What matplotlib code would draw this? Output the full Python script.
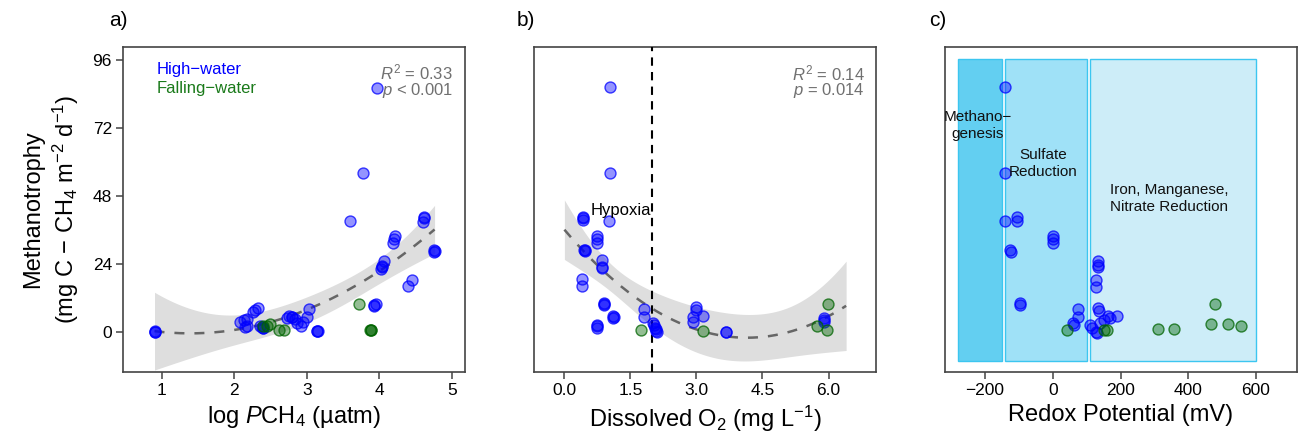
import numpy as np
import matplotlib
matplotlib.use("Agg")
import matplotlib.pyplot as plt
from matplotlib.patches import Rectangle

# ---------------- data ----------------
# Panel a: log PCH4 vs methanotrophy (dark marks = overlapping samples)
a_high_x = [0.90, 0.91, 0.90, 3.96, 3.77, 3.60, 4.61, 4.60, 4.61, 4.21, 4.20, 4.19,
            4.75, 4.75, 4.76, 4.06, 4.03, 4.02, 4.03, 4.45, 4.40, 3.95, 3.92, 3.93,
            3.14, 3.15, 3.14, 3.03, 3.00, 2.95, 2.92, 2.86, 2.84, 2.79, 2.76, 2.72,
            2.80, 2.38, 2.40, 2.36, 2.39, 2.32, 2.29, 2.26, 2.17, 2.13, 2.08, 2.17,
            2.15]
a_high_y = [0.1, 0.0, 0.2, 86.2, 56.2, 39.2, 40.1, 39.0, 40.5, 34.0, 32.7, 31.5,
            28.9, 28.2, 28.5, 25.2, 23.3, 22.4, 22.8, 18.4, 16.3, 9.9, 9.2, 9.6,
            0.35, 0.3, 0.2, 8.1, 5.4, 3.6, 2.2, 3.1, 4.5, 5.4, 5.6, 4.8,
            5.2, 1.8, 1.3, 2.0, 1.5, 8.6, 7.8, 7.1, 4.5, 4.2, 3.7, 2.2,
            1.9]
a_fall_x = [3.72, 3.87, 3.89, 3.88, 2.61, 2.69, 2.49, 2.45, 2.40]
a_fall_y = [9.9, 0.7, 0.7, 0.8, 0.6, 0.6, 2.7, 2.2, 2.0]

# Panel b: dissolved O2 vs methanotrophy
b_high_x = [1.04, 1.04, 1.02, 0.42, 0.42, 0.42, 0.73, 0.75, 0.75, 0.45, 0.47,
            0.46, 0.86, 0.86, 0.86, 0.39, 0.39, 0.89, 0.89, 0.90, 1.11, 1.11,
            1.12, 0.73, 0.73, 0.74, 1.80, 1.80, 2.02, 2.06, 2.10, 2.04, 2.07,
            2.08, 2.98, 2.98, 2.92, 2.92, 3.16, 3.67, 3.67, 5.89, 5.89, 5.90]
b_high_y = [86.4, 56.1, 39.2, 40.7, 39.5, 40.2, 33.9, 32.7, 31.5, 28.9, 28.6,
            28.8, 25.4, 23.1, 22.5, 18.6, 16.2, 10.1, 9.5, 9.8, 5.6, 5.1,
            5.3, 2.5, 1.6, 2.0, 8.1, 5.4, 3.1, 1.6, 0.1, 2.5, 1.0,
            0.5, 8.7, 7.8, 5.2, 3.6, 5.6, 0.0, 0.0, 4.8, 3.6, 4.2]
b_fall_x = [1.75, 3.14, 5.99, 5.73, 5.96]
b_fall_y = [0.8, 0.5, 9.9, 2.2, 0.7]

# Panel c: redox potential vs methanotrophy
c_high_x = [-140, -140, -140, -106, -106, 2, 2, 2, -126, -124, 135, 133, 134,
            128, 128, -98, -98, 76, 76, 61, 64, 135, 138, 164, 169, 189, 151,
            140, 110, 115, 128, 130]
c_high_y = [86.4, 56.1, 39.2, 40.5, 39.3, 33.9, 32.7, 31.5, 28.9, 28.4, 25.2,
            22.8, 23.5, 18.4, 16.0, 10.1, 9.5, 8.0, 5.4, 3.1, 2.5, 8.4, 7.5,
            5.6, 4.8, 5.6, 4.2, 3.1, 2.5, 1.6, 0.1, -0.5]
c_fall_x = [41, 151, 161, 312, 358, 479, 467, 518, 555]
c_fall_y = [0.7, 0.7, 0.7, 0.9, 0.9, 9.9, 2.7, 2.7, 2.2]

# redox zones
zone_names = ["Methano\u2212\ngenesis", "Sulfate\nReduction",
              "Iron, Manganese,\nNitrate Reduction"]
zone_start = [-280, -140, 110]
zone_end = [-150, 100, 600]
zone_colors = ["#63CFF1", "#9FE1F7", "#CDEDF8"]
zone_label_x = [-222, -28, 344]
zone_label_y = [73, 59.5, 47]

y_ticks = [0, 24, 48, 72, 96]
a_ticks = [1, 2, 3, 4, 5]
b_ticks = [0.0, 1.5, 3.0, 4.5, 6.0]
b_ticklabels = ["0.0", "1.5", "3.0", "4.5", "6.0"]
c_ticks = [-200, 0, 200, 400, 600]
c_ticklabels = ["\u2212200", "0", "200", "400", "600"]

stats_a = [r"$R^2$ = 0.33", r"$p$ < 0.001"]
stats_b = [r"$R^2$ = 0.14", r"$p$ = 0.014"]

HIGH = "#0000FF"
FALL = "#006400"
YLIM = (-14.1, 100.6)

plt.rcParams['font.family'] = ['Liberation Sans', 'DejaVu Sans']
plt.rcParams['mathtext.fontset'] = 'custom'
plt.rcParams['mathtext.rm'] = 'Liberation Sans'
plt.rcParams['mathtext.it'] = 'Liberation Sans:italic'


def quad_fit(x, y, xgrid):
    x = np.asarray(x, float)
    y = np.asarray(y, float)
    X = np.column_stack([np.ones_like(x), x, x ** 2])
    beta, *_ = np.linalg.lstsq(X, y, rcond=None)
    resid = y - X @ beta
    n, p = X.shape
    df = n - p
    s2 = resid @ resid / df
    cov = s2 * np.linalg.inv(X.T @ X)
    G = np.column_stack([np.ones_like(xgrid), xgrid, xgrid ** 2])
    fit = G @ beta
    se = np.sqrt(np.einsum('ij,jk,ik->i', G, cov, G))
    z = 1.959964
    t = z + (z ** 3 + z) / (4 * df) + (5 * z ** 5 + 16 * z ** 3 + 3 * z) / (96 * df ** 2)
    return fit, fit - t * se, fit + t * se


def style_axes(ax):
    for s in ax.spines.values():
        s.set_color("#444444")
        s.set_linewidth(1.2)
    ax.tick_params(direction='out', length=5, width=1.1, color="#444444",
                   labelsize=12.5, pad=3)
    ax.set_ylim(*YLIM)


def scatter(ax, x, y, color):
    ax.scatter(x, y, s=62, facecolor=matplotlib.colors.to_rgba(color, 0.42),
               edgecolor=matplotlib.colors.to_rgba(color, 0.75), linewidth=1.0,
               zorder=4)


fig = plt.figure(figsize=(12.99, 4.33), dpi=100)
axa = fig.add_axes([0.0947, 0.1409, 0.2633, 0.7506])
axb = fig.add_axes([0.4111, 0.1409, 0.2633, 0.7506])
axc = fig.add_axes([0.7275, 0.1409, 0.2707, 0.7506])

# ---- panel a ----
xa = np.array(a_high_x + a_fall_x)
ya = np.array(a_high_y + a_fall_y)
grid_a = np.linspace(xa.min(), xa.max(), 200)
fa, la, ua = quad_fit(xa, ya, grid_a)
axa.fill_between(grid_a, la, ua, color="#DEDEDE", lw=0, zorder=1)
axa.plot(grid_a, fa, color="#666666", lw=1.8, dashes=(4, 4), zorder=2)
scatter(axa, a_high_x, a_high_y, HIGH)
scatter(axa, a_fall_x, a_fall_y, FALL)
axa.set_xlim(0.466, 5.18)
axa.set_xticks(a_ticks)
axa.set_yticks(y_ticks)
axa.set_xlabel(r"log $P$CH$_4$ (µatm)", fontsize=17, labelpad=4)
axa.set_ylabel("Methanotrophy\n" + r"(mg C $-$ CH$_4$ m$^{-2}$ d$^{-1}$)",
               fontsize=17, labelpad=8, linespacing=1.3)
axa.text(0.098, 0.931, "High\u2212water", color=HIGH, fontsize=12,
         transform=axa.transAxes, va='center', ha='left')
axa.text(0.098, 0.871, "Falling\u2212water", color="#1A7A1A", fontsize=12,
         transform=axa.transAxes, va='center', ha='left')
axa.text(0.965, 0.923, stats_a[0], color="#707070", fontsize=12,
         transform=axa.transAxes, va='center', ha='right')
axa.text(0.965, 0.866, stats_a[1], color="#707070", fontsize=12,
         transform=axa.transAxes, va='center', ha='right')
style_axes(axa)

# ---- panel b ----
xb = np.array(b_high_x + b_fall_x)
yb = np.array(b_high_y + b_fall_y)
grid_b = np.linspace(0.0, 6.4, 200)
fb, lb, ub = quad_fit(xb, yb, grid_b)
axb.fill_between(grid_b, lb, ub, color="#DEDEDE", lw=0, zorder=1)
axb.plot(grid_b, fb, color="#666666", lw=1.8, dashes=(4, 4), zorder=2)
axb.axvline(2.0, color="black", lw=1.5, dashes=(4, 3), zorder=3)
scatter(axb, b_high_x, b_high_y, HIGH)
scatter(axb, b_fall_x, b_fall_y, FALL)
axb.text(1.28, 43, "Hypoxia", fontsize=12, ha='center', va='center', zorder=5)
axb.set_xlim(-0.69, 7.08)
axb.set_xticks(b_ticks)
axb.set_xticklabels(b_ticklabels)
axb.set_yticks([])
axb.set_xlabel(r"Dissolved O$_2$ (mg L$^{-1}$)", fontsize=17, labelpad=4)
axb.text(0.968, 0.919, stats_b[0], color="#707070", fontsize=12,
         transform=axb.transAxes, va='center', ha='right')
axb.text(0.968, 0.866, stats_b[1], color="#707070", fontsize=12,
         transform=axb.transAxes, va='center', ha='right')
style_axes(axb)

# ---- panel c ----
for x0, x1, col in zip(zone_start, zone_end, zone_colors):
    axc.add_patch(Rectangle((x0, -10.1), x1 - x0, 106.4, facecolor=col,
                            edgecolor="#3CC6F0", lw=1.0, zorder=1))
for name, lx, ly in zip(zone_names, zone_label_x, zone_label_y):
    axc.text(lx, ly, name, fontsize=11, ha='center', va='center',
             color="#111111", linespacing=1.25, zorder=5)
scatter(axc, c_high_x, c_high_y, HIGH)
scatter(axc, c_fall_x, c_fall_y, FALL)
axc.set_xlim(-318, 720)
axc.set_xticks(c_ticks)
axc.set_xticklabels(c_ticklabels)
axc.set_yticks([])
axc.set_xlabel("Redox Potential (mV)", fontsize=17, labelpad=4)
style_axes(axc)

for lab, x in zip(["a)", "b)", "c)"], [0.091, 0.405, 0.722]):
    fig.text(x, 0.953, lab, fontsize=15, ha='center', va='center')

fig.savefig("out.png", dpi=100)
